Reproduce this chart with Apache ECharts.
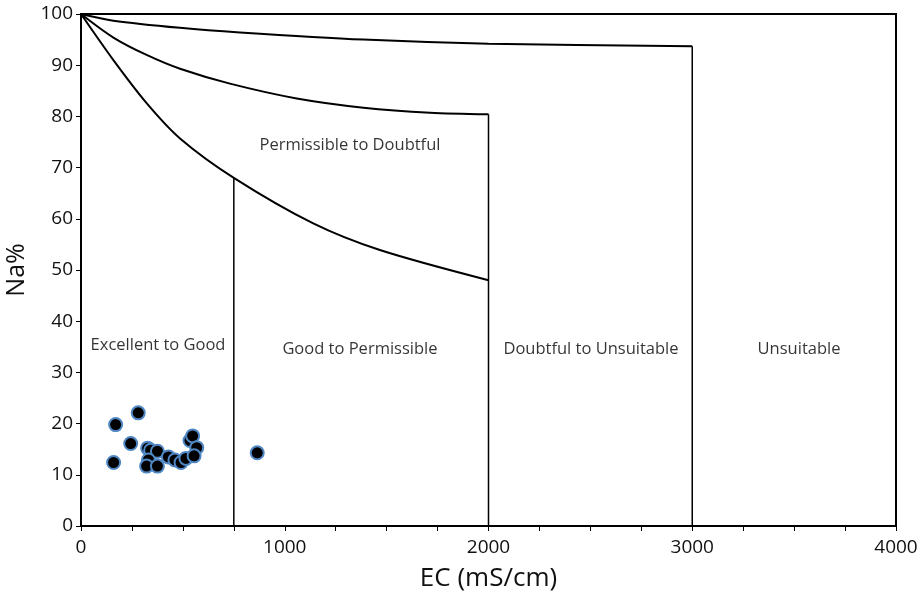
<!DOCTYPE html>
<html>
<head>
<meta charset="utf-8">
<title>Wilcox diagram</title>
<script src="https://cdn.jsdelivr.net/npm/echarts@6/dist/echarts.min.js"></script>
<style>
  html, body { margin: 0; padding: 0; background: #fff; }
  #chart { width: 923px; height: 597px; }
</style>
</head>
<body>
<div id="chart"></div>
<script>
// Boundary curves of the Wilcox classification (EC vs Na%)
const curveLow = [[0, 100], [159, 91.0], [322, 82.6], [486, 75.7], [750, 68.0], [1140, 59.1], [1467, 53.9], [2000, 48.0]];
const curveMid = [[0, 100], [159, 95.4], [322, 92.0], [486, 89.3], [731, 86.4], [1059, 83.5], [1386, 81.7], [1713, 80.7], [2000, 80.4]];
const curveHigh = [[0, 100], [159, 98.7], [486, 97.3], [780, 96.4], [1386, 95.0], [2000, 94.2], [3000, 93.7]];

// Vertical class separators
const divider750 = [[750, 0], [750, 68.0]];
const divider2000 = [[2000, 0], [2000, 80.4]];
const divider3000 = [[3000, 0], [3000, 93.7]];

// Water samples: EC (mS/cm), Na%
const sampleEC = [170, 281, 160, 244, 327, 342, 375, 331, 322, 375, 429, 461, 491, 515, 535, 548, 568, 555, 865];
const sampleNa = [19.8, 22.1, 12.4, 16.1, 15.2, 14.8, 14.6, 12.9, 11.7, 11.7, 13.5, 12.9, 12.4, 13.2, 16.7, 17.6, 15.3, 13.7, 14.3];

// Class names and where they sit in the diagram
const zoneNames = ['Permissible to Doubtful', 'Excellent to Good', 'Good to Permissible', 'Doubtful to Unsuitable', 'Unsuitable'];
const zoneEC = [1320, 378, 1369, 2503, 3524];
const zoneNa = [74.4, 35.2, 34.6, 34.6, 34.6];

const FONT = '"Open Sans", sans-serif';

const lineSeries = (data, width, smooth) => ({
  type: 'line',
  data: data,
  smooth: smooth,
  showSymbol: false,
  symbol: 'none',
  silent: true,
  lineStyle: { color: '#000', width: width },
  z: 2
});

const chart = echarts.init(document.getElementById('chart'), null, { renderer: 'canvas' });

chart.setOption({
  animation: false,
  backgroundColor: '#fff',
  grid: {
    left: 81, right: 27, top: 14, bottom: 71,
    containLabel: false,
    outerBoundsMode: 'none',
    show: true, borderColor: '#000', borderWidth: 2, backgroundColor: 'transparent'
  },
  xAxis: {
    type: 'value',
    min: 0, max: 4000, interval: 1000,
    name: 'EC (mS/cm)',
    nameLocation: 'middle',
    nameGap: 40,
    nameTextStyle: { fontFamily: FONT, fontSize: 26, color: '#111' },
    axisLine: { show: true, lineStyle: { color: '#000', width: 2 } },
    axisTick: { show: true, length: 5, lineStyle: { color: '#000', width: 1 } },
    minorTick: { show: true, splitNumber: 4, length: 5, lineStyle: { color: '#000', width: 1 } },
    axisLabel: { fontFamily: FONT, fontSize: 19, color: '#111', margin: 12, formatter: v => String(v) },
    splitLine: { show: false }
  },
  yAxis: {
    type: 'value',
    min: 0, max: 100, interval: 10,
    name: 'Na%',
    nameLocation: 'middle',
    nameGap: 48,
    nameTextStyle: { fontFamily: FONT, fontSize: 25, color: '#111' },
    axisLine: { show: true, lineStyle: { color: '#000', width: 2 } },
    axisTick: { show: true, length: 5, lineStyle: { color: '#000', width: 1 } },
    axisLabel: { fontFamily: FONT, fontSize: 19, color: '#111', margin: 8 },
    splitLine: { show: false }
  },
  series: [
    lineSeries(curveLow, 2, 0.3),
    lineSeries(curveMid, 2, 0.3),
    lineSeries(curveHigh, 2, 0.3),
    lineSeries(divider750, 1.5, false),
    lineSeries(divider2000, 1.5, false),
    lineSeries(divider3000, 1.5, false),
    {
      type: 'scatter',
      silent: true,
      data: zoneNames.map((n, i) => ({ name: n, value: [zoneEC[i], zoneNa[i]] })),
      symbolSize: 1,
      itemStyle: { color: 'transparent' },
      label: {
        show: true,
        position: 'inside',
        formatter: p => p.name,
        fontFamily: FONT,
        fontSize: 16.5,
        color: '#000'
      },
      z: 3
    },
    {
      type: 'scatter',
      data: sampleEC.map((x, i) => [x, sampleNa[i]]),
      symbol: 'circle',
      symbolSize: 13,
      itemStyle: { color: '#000', borderColor: '#4f87c4', borderWidth: 2, opacity: 1 },
      z: 5
    }
  ]
});
</script>
</body>
</html>
